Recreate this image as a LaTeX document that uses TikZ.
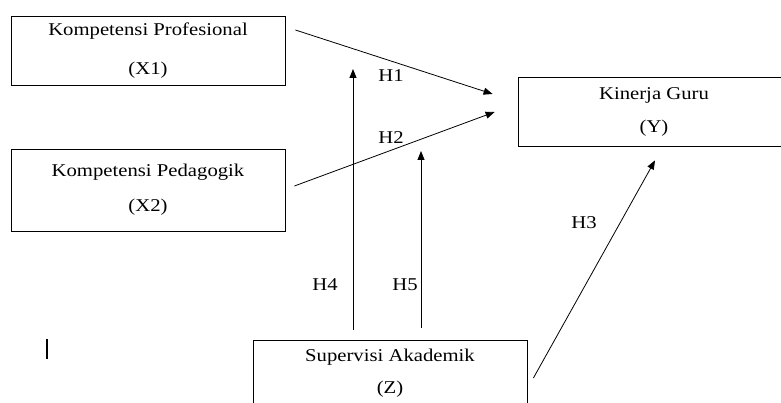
\documentclass[tikz,border=0pt]{standalone}
\usepackage{fontspec}
\setmainfont{Liberation Serif}[FakeStretch=1.15]
\usepackage{tikz}
\usetikzlibrary{arrows.meta,positioning}

\tikzset{
  varbox/.style={draw, line width=0.8pt, align=center, minimum width=274pt,
    font=\fontsize{18}{22}\selectfont},
  hyp/.style={font=\fontsize{18}{22}\selectfont, inner sep=0pt},
  link/.style={line width=0.8pt, -{Triangle[length=9pt,width=7pt]}}
}

\begin{document}
\begin{tikzpicture}[x=1pt, y=-1pt]
  \useasboundingbox (0,0) rectangle (781,403);
  \clip (0,0) rectangle (781,403);

  % variables
  \node[varbox, minimum height=69pt] (x1) at (148,50.5) {Kompetensi Profesional\\[17pt](X1)};
  \node[varbox, minimum height=82pt] (x2) at (148,190) {Kompetensi Pedagogik\\[13pt](X2)};
  \node[varbox, minimum width=272pt, minimum height=69pt] (y) at (654,111.5) {Kinerja Guru\\[11pt](Y)};
  \node[varbox, minimum height=67pt] (z) at (390,373.5) {Supervisi Akademik\\[10pt](Z)};

  % free ends of the moderation arrows
  \coordinate (m1) at (353,69);
  \coordinate (m2) at (421,151);

  % direct effects
  \draw[link] ([shift={(10,-20.5)}]x1.east) -- ([shift={(-25,-17.5)}]y.west);
  \draw[link] ([shift={(9,-4)}]x2.east) -- ([shift={(-23,0.5)}]y.west);
  \draw[link] ([shift={(6,4.5)}]z.east) -- ([shift={(1,14)}]y.south);

  % moderation
  \draw[link] ([shift={(-37,-10)}]z.north) -- (m1);
  \draw[link] ([shift={(31,-12)}]z.north) -- (m2);

  % hypotheses
  \node[hyp] (h1) at (391,76) {H1};
  \node[hyp] (h2) at (391,138) {H2};
  \node[hyp] (h3) at (584,223) {H3};
  \node[hyp] (h4) at (325,285) {H4};
  \node[hyp] (h5) at (405,285) {H5};

  % stray mark
  \draw[line width=1.2pt] (47,339) -- (47,359);
\end{tikzpicture}
\end{document}
